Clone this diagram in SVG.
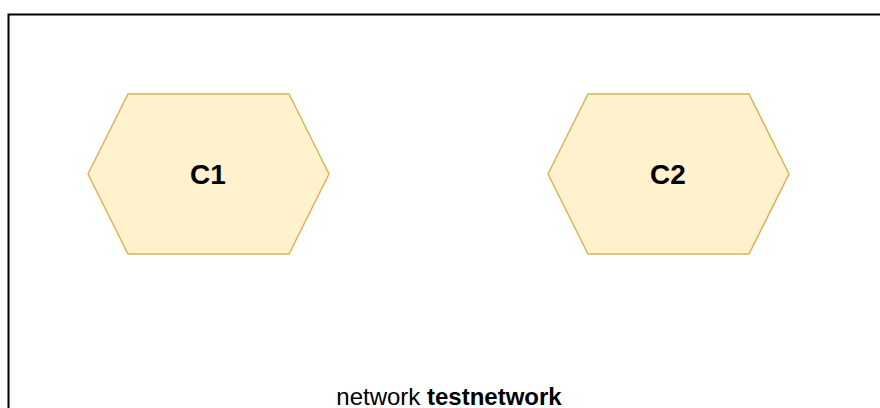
<svg xmlns="http://www.w3.org/2000/svg" width="880" height="408" viewBox="0 0 880 408">
<style>
.hex{fill:#fff2cc;stroke:#d6b656;stroke-width:1.5}
.lbl{font-family:"Liberation Sans",Arial,sans-serif;font-weight:bold;font-size:28px;fill:#000;text-anchor:middle}
.net{font-family:"Liberation Sans",Arial,sans-serif;font-size:24px;fill:#000;text-anchor:middle}
</style>
<rect x="0" y="0" width="880" height="408" fill="#fff"/>
<g id="network">
<rect x="8.5" y="14.5" width="900" height="420" fill="none" stroke="#000" stroke-width="2"/>
<text class="net" x="449" y="405">network <tspan font-weight="bold">testnetwork</tspan></text>
</g>
<g id="C1">
<polygon class="hex" points="88,174 128,94 289,94 329,174 289,254 128,254"/>
<text class="lbl" x="208" y="184">C1</text>
</g>
<g id="C2">
<polygon class="hex" points="548,174 588,94 749,94 789,174 749,254 588,254"/>
<text class="lbl" x="668" y="184">C2</text>
</g>
<g id="connectors"></g>
</svg>
